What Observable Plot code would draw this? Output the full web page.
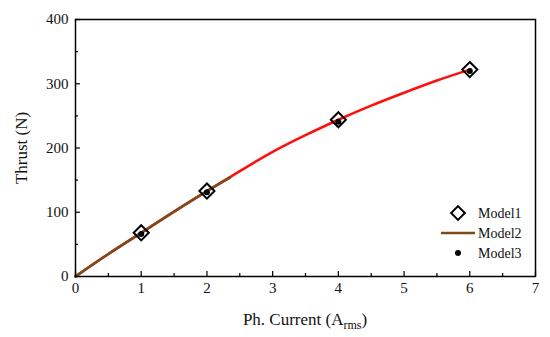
<!DOCTYPE html>
<html><head><meta charset="utf-8">
<script src="https://cdn.jsdelivr.net/npm/d3@7"></script>
<script src="https://cdn.jsdelivr.net/npm/@observablehq/plot@0.6"></script>
<style>
html,body{margin:0;padding:0;background:#fff;}
#chart{position:relative;width:550px;height:337px;}
</style>
</head><body><div id="chart"></div>
<script>
// Data
const currents = [1, 2, 4, 6];
const model1 = [68, 133, 244, 322];
const model3 = [66, 131, 241, 320];
const curveX = [0, 0.5, 1, 1.5, 2, 2.5, 3, 3.5, 4, 4.5, 5, 5.5, 6];
const curveY = [0, 35, 68, 101, 133, 164, 194, 220, 244, 266, 286, 305, 322];
const brownX = [0, 0.5, 1, 1.5, 2, 2.35];
const brownY = [0, 35, 68, 101, 133, 154];
const xTicks = [0, 1, 2, 3, 4, 5, 6, 7];
const xMinor = [0.5, 1.5, 2.5, 3.5, 4.5, 5.5, 6.5];
const yTicks = [0, 100, 200, 300, 400];
const yMinor = [50, 150, 250, 350];
const legendNames = ["Model1", "Model2", "Model3"];

const m1 = currents.map((x, i) => ({x, y: model1[i]}));
const m3 = currents.map((x, i) => ({x, y: model3[i]}));
const curve = curveX.map((x, i) => ({x, y: curveY[i]}));
const brown = brownX.map((x, i) => ({x, y: brownY[i]}));

const serif = "'Liberation Serif', 'Times New Roman', serif";
const plot = Plot.plot({
  width: 550, height: 337,
  marginLeft: 75, marginRight: 15, marginTop: 19, marginBottom: 61,
  style: {fontFamily: serif, fontSize: "15px", color: "#111", background: "#fff"},
  x: {domain: [0, 7], label: null},
  y: {domain: [0, 400], label: null},
  marks: [
    Plot.axisX(xTicks, {tickSize: -5, tickPadding: 11, strokeWidth: 1.3}),
    Plot.axisX(xMinor, {tickSize: -3, tickFormat: () => "", strokeWidth: 1.3}),
    Plot.axisY(yTicks, {anchor: "left", tickSize: -5, tickPadding: 12, strokeWidth: 1.3}),
    Plot.axisY(yMinor, {anchor: "left", tickSize: -3, tickFormat: () => "", strokeWidth: 1.3}),
    Plot.line(curve, {x: "x", y: "y", stroke: "#ff1010", strokeWidth: 2.6, curve: "natural"}),
    Plot.line(brown, {x: "x", y: "y", stroke: "#7d4a1c", strokeWidth: 2.6, curve: "natural"}),
    Plot.dot(m1, {x: "x", y: "y", symbol: "diamond2", r: 6.8, stroke: "#000", strokeWidth: 2, fill: "none"}),
    Plot.dot(m3, {x: "x", y: "y", r: 3, fill: "#000", stroke: "none"}),
    Plot.frame({stroke: "#000", strokeWidth: 1.5})
  ]
});
document.getElementById("chart").appendChild(plot);

const svg = d3.select(plot);
svg.selectAll("text").style("font-family", serif).style("font-size", "15px").attr("fill", "#111");

// Axis labels
svg.append("text")
  .attr("transform", "translate(27,148) rotate(-90)")
  .attr("text-anchor", "middle")
  .style("font-family", serif).style("font-size", "17px").attr("fill", "#111")
  .text("Thrust (N)");
const xl = svg.append("text")
  .attr("x", 305).attr("y", 325)
  .attr("text-anchor", "middle")
  .style("font-family", serif).style("font-size", "17px").attr("fill", "#111");
xl.append("tspan").text("Ph. Current (A");
xl.append("tspan").attr("dy", 4).style("font-size", "12px").text("rms");
xl.append("tspan").attr("dy", -4).text(")");

// Legend
const lg = svg.append("g");
const ly = [213, 233, 253];
lg.append("path").attr("d", d3.symbol(d3.symbolDiamond2, 120)())
  .attr("transform", `translate(458,${ly[0]})`).attr("fill", "none").attr("stroke", "#000").attr("stroke-width", 2);
lg.append("line").attr("x1", 441).attr("x2", 475).attr("y1", ly[1]).attr("y2", ly[1])
  .attr("stroke", "#7d4a1c").attr("stroke-width", 2.6);
lg.append("circle").attr("cx", 458).attr("cy", ly[2]).attr("r", 3).attr("fill", "#000");
legendNames.forEach((n, i) => {
  lg.append("text").attr("x", 478).attr("y", ly[i] + 5).attr("text-anchor", "start")
    .style("font-family", serif).style("font-size", "14px").attr("fill", "#111").text(n);
});
</script>
</body></html>
